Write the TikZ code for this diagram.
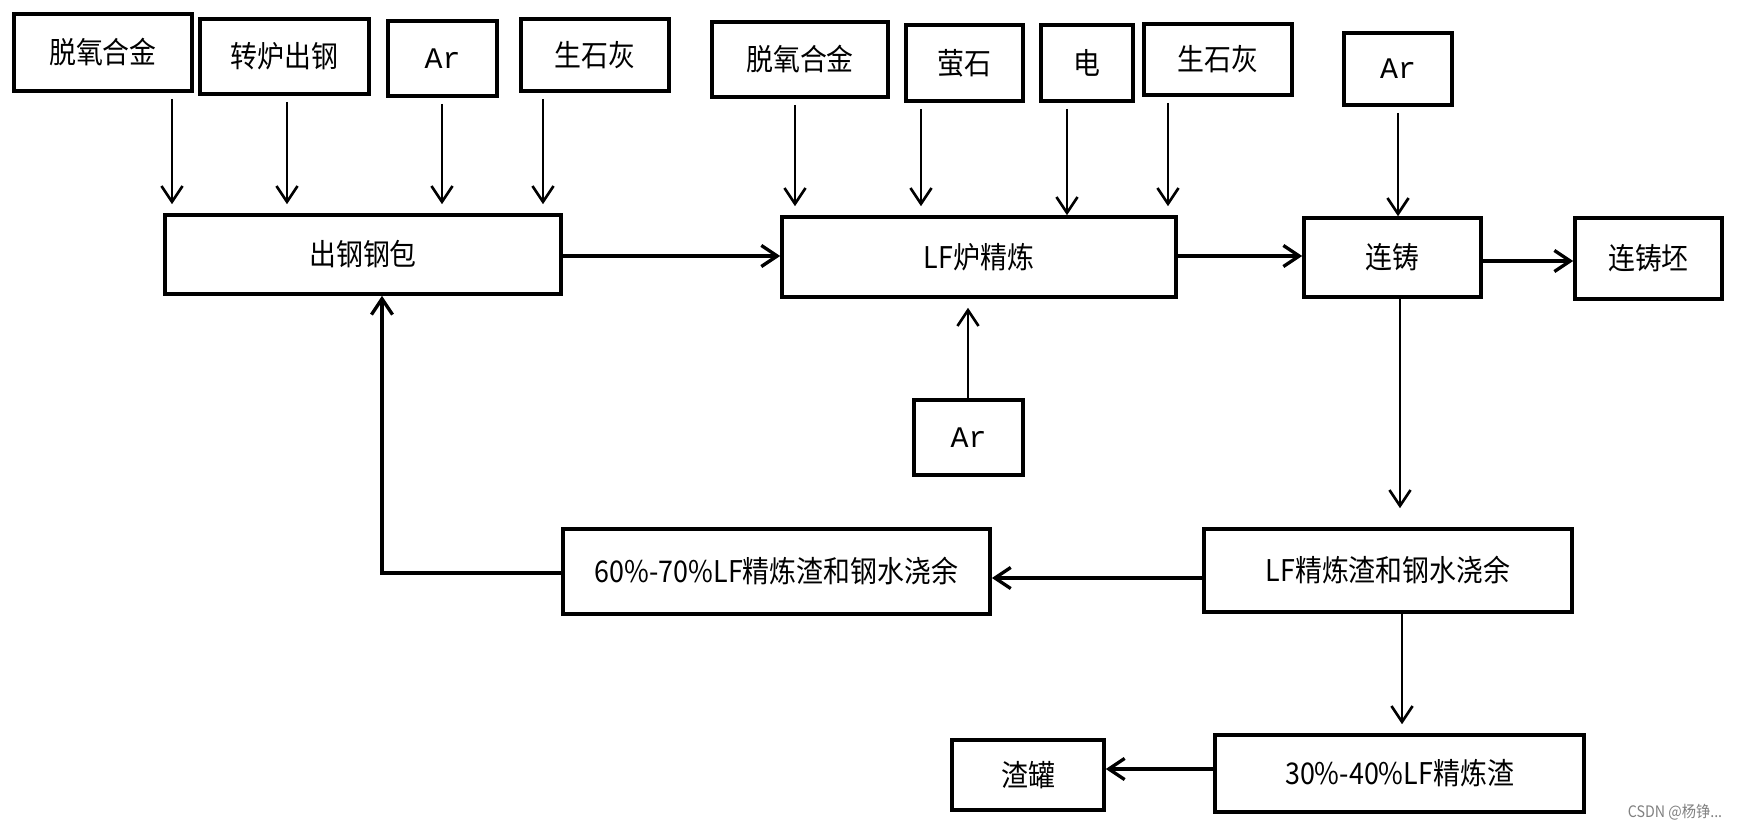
\documentclass[tikz,border=0pt]{standalone}
\usepackage{fontspec}
\setmainfont{Noto Sans CJK SC}[FakeStretch=0.9]
\newfontfamily\arfont{Liberation Mono}
\usetikzlibrary{arrows.meta}
\begin{document}
\begin{tikzpicture}[x=0.01cm,y=-0.01cm]
		\tikzstyle{box}=[draw,line width=1pt,inner sep=0pt,font=\fontsize{8.5}{10}\selectfont]
		\tikzstyle{feed}=[->,line width=0.75pt,shorten <=0.06cm,shorten >=0.09cm]
		\tikzstyle{flow}=[->,line width=0.95pt]
		\tikzset{>={Straight Barb[length=4.5pt,width=6pt]}}
		\useasboundingbox (0,0) rectangle (1737,828);
		% top row, first group
		\node[box,minimum width=1.78cm,minimum height=0.77cm] (feed_1) at (103,52.5) {脱氧合金};
		\node[box,minimum width=1.69cm,minimum height=0.75cm] (feed_2) at (284.5,56.5) {转炉出钢};
		\node[box,minimum width=1.09cm,minimum height=0.75cm] (feed_3) at (442.5,58.5) {\arfont Ar};
		\node[box,minimum width=1.48cm,minimum height=0.72cm] (feed_4) at (595,55) {生石灰};
		% top row, second group
		\node[box,minimum width=1.76cm,minimum height=0.75cm] (feed_5) at (800,59.5) {脱氧合金};
		\node[box,minimum width=1.17cm,minimum height=0.76cm] (feed_6) at (964.5,63) {萤石};
		\node[box,minimum width=0.92cm,minimum height=0.76cm] (feed_7) at (1087,63) {电};
		\node[box,minimum width=1.48cm,minimum height=0.71cm] (feed_8) at (1218,59.5) {生石灰};
		\node[box,minimum width=1.08cm,minimum height=0.72cm] (ar_cc) at (1398,69) {\arfont Ar};
		% main line
		\node[box,minimum width=3.96cm,minimum height=0.79cm] (ladle) at (363,254.5) {出钢钢包};
		\node[box,minimum width=3.94cm,minimum height=0.80cm] (lf) at (979,257) {LF炉精炼};
		\node[box,minimum width=1.77cm,minimum height=0.79cm] (cc) at (1392.5,257.5) {连铸};
		\node[box,minimum width=1.47cm,minimum height=0.81cm] (billet) at (1648.5,258.5) {连铸坯};
		\node[box,minimum width=1.09cm,minimum height=0.75cm] (ar_lf) at (968.5,437.5) {\arfont Ar};
		% slag
		\node[box,minimum width=3.68cm,minimum height=0.83cm] (slag) at (1388,570.5) {LF精炼渣和钢水浇余};
		\node[box,minimum width=4.27cm,minimum height=0.85cm] (back) at (776.5,571.5) {60\%-70\%LF精炼渣和钢水浇余};
		\node[box,minimum width=3.69cm,minimum height=0.77cm] (slag_part) at (1399.5,773.5) {30\%-40\%LF精炼渣};
		\node[box,minimum width=1.52cm,minimum height=0.70cm] (pot) at (1028,775) {渣罐};
		\node[font=\fontsize{4.5}{5}\selectfont,text=gray,inner sep=0pt] (mark) at (1675,812) {CSDN @杨铮...};
		\draw[feed] (feed_1.south -| 172,0) -- (ladle.north -| 172,0);
		\draw[feed] (feed_2.south -| 287,0) -- (ladle.north -| 287,0);
		\draw[feed] (feed_3.south -| 442,0) -- (ladle.north -| 442,0);
		\draw[feed] (feed_4.south -| 543,0) -- (ladle.north -| 543,0);
		\draw[feed] (feed_5.south -| 795,0) -- (lf.north -| 795,0);
		\draw[feed] (feed_6.south -| 921,0) -- (lf.north -| 921,0);
		\draw[feed,shorten >=0pt] (feed_7.south -| 1067,0) -- (lf.north -| 1067,0);
		\draw[feed] (feed_8.south -| 1168,0) -- (lf.north -| 1168,0);
		\draw[feed,shorten >=0pt] (ar_cc.south -| 1398,0) -- (cc.north -| 1398,0);
		\draw[feed,shorten <=0pt] (ar_lf.north -| 968,0) -- (lf.south -| 968,0);
		\draw[flow] (ladle.east |- 0,256) -- (lf.west |- 0,256);
		\draw[flow] (lf.east |- 0,256) -- (cc.west |- 0,256);
		\draw[flow] (cc.east |- 0,261) -- (billet.west |- 0,261);
		\draw[feed,shorten <=0pt,shorten >=0.19cm] (cc.south -| 1400,0) -- (slag.north -| 1400,0);
		\draw[flow] (slag.west |- 0,578) -- (back.east |- 0,578);
		\draw[flow] (back.west |- 0,573) -| (ladle.south -| 382,0);
		\draw[feed,shorten <=0pt] (slag.south -| 1402,0) -- (slag_part.north -| 1402,0);
		\draw[flow] (slag_part.west |- 0,769) -- (pot.east |- 0,769);
	\end{tikzpicture}
\end{document}
